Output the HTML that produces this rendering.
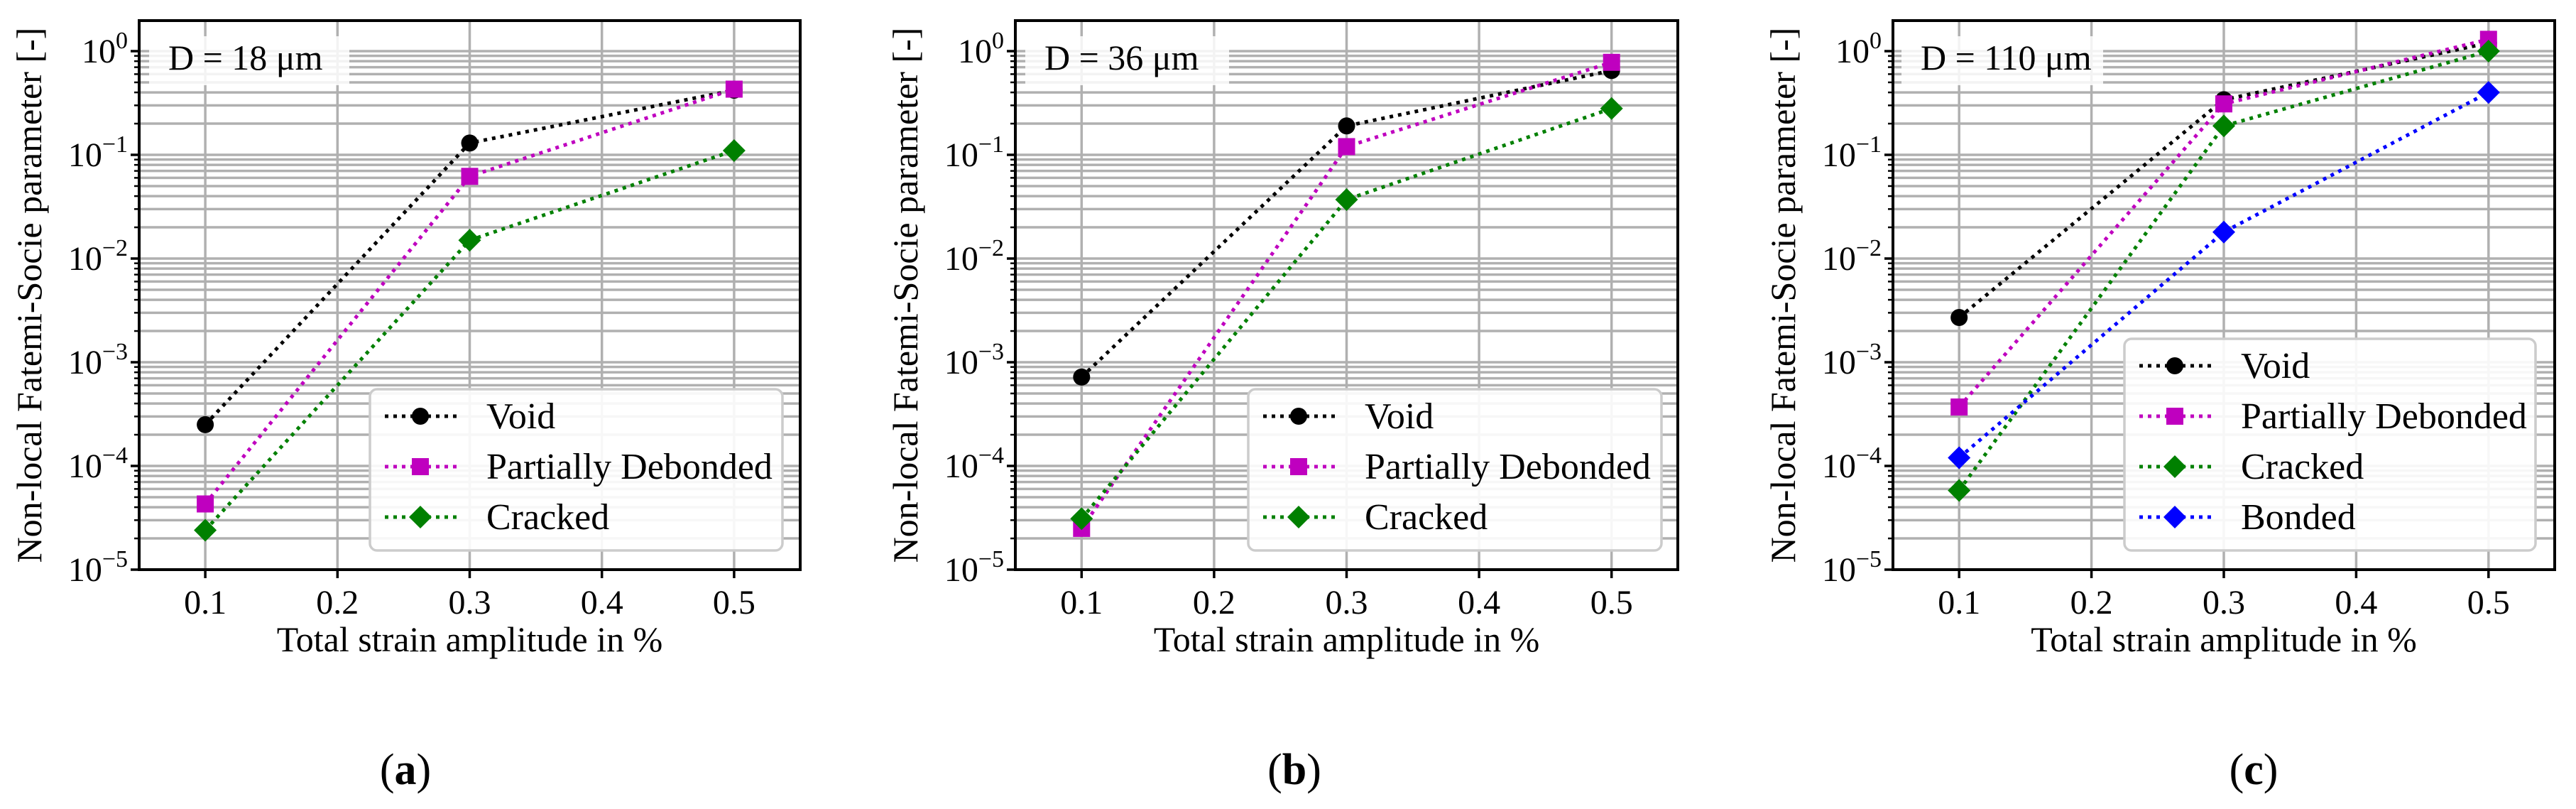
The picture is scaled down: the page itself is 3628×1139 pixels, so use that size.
<!DOCTYPE html>
<html><head><meta charset="utf-8"><style>
html,body{margin:0;padding:0;background:#fff;}
svg{display:block;font-family:"Liberation Serif","DejaVu Serif",serif;}
</style></head><body>
<svg id="fig" width="3628" height="1139" viewBox="0 0 3628 1139" xmlns="http://www.w3.org/2000/svg"></svg>
<script>
const xCats = [0.1, 0.3, 0.5];
const xTicks = [0.1, 0.2, 0.3, 0.4, 0.5];
const xTickLabels = ["0.1", "0.2", "0.3", "0.4", "0.5"];
const yExps = [0, -1, -2, -3, -4, -5];
const seriesNames = ["Void", "Partially Debonded", "Cracked", "Bonded"];
const a_void = [2.5e-4, 0.13, 0.42];
const a_pd = [4.3e-5, 0.062, 0.43];
const a_cracked = [2.4e-5, 0.015, 0.11];
const b_void = [7.2e-4, 0.19, 0.65];
const b_pd = [2.5e-5, 0.12, 0.78];
const b_cracked = [3.1e-5, 0.037, 0.28];
const c_void = [2.7e-3, 0.34, 1.2];
const c_pd = [3.7e-4, 0.31, 1.3];
const c_cracked = [5.8e-5, 0.19, 1.0];
const c_bonded = [1.2e-4, 0.018, 0.4];
const panelTitles = ["D = 18 \u03bcm", "D = 36 \u03bcm", "D = 110 \u03bcm"];
const panelLetters = ["a", "b", "c"];

const NS = "http://www.w3.org/2000/svg";
const svg = document.getElementById("fig");
function el(tag, attrs, parent) {
  const e = document.createElementNS(NS, tag);
  for (const k in attrs) e.setAttribute(k, attrs[k]);
  (parent || svg).appendChild(e);
  return e;
}
const styles = {
  "Void": {color: "#000000", marker: "circle"},
  "Partially Debonded": {color: "#bf00bf", marker: "square"},
  "Cracked": {color: "#008000", marker: "diamond"},
  "Bonded": {color: "#0000ff", marker: "diamond"}
};
function marker(g, type, x, y, color) {
  let m;
  if (type === "circle") m = el("circle", {cx: x, cy: y, r: 12, fill: color}, g);
  else if (type === "square") m = el("rect", {x: x - 12, y: y - 12, width: 24, height: 24, fill: color}, g);
  else m = el("polygon", {points: `${x},${y-16} ${x+16},${y} ${x},${y+16} ${x-16},${y}`, fill: color}, g);
  return m;
}
const panels = [
  {left: 196, right: 1127, letterX: 571, legend: [521, 548, 1102, 775], title: [210, 51, 492, 120], series: [["Void", a_void], ["Partially Debonded", a_pd], ["Cracked", a_cracked]]},
  {left: 1430, right: 2363, letterX: 1823, legend: [1758, 548, 2340, 775], title: [1444, 51, 1731, 120], series: [["Void", b_void], ["Partially Debonded", b_pd], ["Cracked", b_cracked]]},
  {left: 2666, right: 3598, letterX: 3174, legend: [2992, 477, 3571, 775], title: [2678, 51, 2962, 120], series: [["Void", c_void], ["Partially Debonded", c_pd], ["Cracked", c_cracked], ["Bonded", c_bonded]]}
];
const TOP = 29, BOT = 802, Y0 = 72;
const DEC = (BOT - Y0) / 5;
panels.forEach((p, pi) => {
  const g = el("g", {});
  
  
  const xs = v => p.left + (v - 0.05) / 0.5 * (p.right - p.left);
  const ys = v => Y0 - Math.log10(v) * DEC;
  const grid = el("g", {stroke: "#b0b0b0", "stroke-width": 3.5}, g);
  
  
  for (let e = 0; e >= -5; e--) {
    for (let k = 1; k <= 9; k++) {
      const v = k * Math.pow(10, e);
      const y = ys(v);
      if (y < TOP || y > BOT) continue;
      el("line", {x1: p.left, x2: p.right, y1: y, y2: y}, grid);
      el("line", {x1: p.left - (k === 1 ? 12 : 7), x2: p.left, y1: y, y2: y, stroke: "#000", "stroke-width": k === 1 ? 3.5 : 2.5}, g);
    }
  }
  const ttop = ys(2);
  if (ttop > TOP) el("line", {x1: p.left - 7, x2: p.left, y1: ttop, y2: ttop, stroke: "#000", "stroke-width": 2.5}, g);
  xTicks.forEach((t, i) => {
    const x = xs(t);
    el("line", {x1: x, x2: x, y1: TOP, y2: BOT}, grid);
    el("line", {x1: x, x2: x, y1: BOT, y2: BOT + 12, stroke: "#000", "stroke-width": 3.5}, g);
    const tl = el("text", {x: x, y: BOT + 62, "font-size": 48, "text-anchor": "middle"}, g);
    tl.textContent = xTickLabels[i];
    
    
  });
  yExps.forEach(e => {
    const y = ys(Math.pow(10, e));
    const t = el("text", {x: p.left - 16, y: y + 16, "font-size": 48, "text-anchor": "end"}, g);
    
    
    const base = el("tspan", {}, t); base.textContent = "10";
    const sup = el("tspan", {"font-size": 34, dy: -20}, t); sup.textContent = e === 0 ? "0" : "\u2212" + (-e);
  });
  const [tx1, ty1, tx2, ty2] = p.title;
  const tb = el("rect", {x: tx1, y: ty1, width: tx2 - tx1, height: ty2 - ty1, fill: "#fff", "fill-opacity": 0.85}, g);
  
  
  const tt = el("text", {x: tx1 + 27, y: ty1 + 47, "font-size": 50}, g);
  tt.textContent = panelTitles[pi];
  
  
  p.series.forEach(([name, vals]) => {
    const st = styles[name];
    const sg = el("g", {}, g);
    
    
    const pts = vals.map((v, i) => xs(xCats[i]) + "," + ys(v)).join(" ");
    el("polyline", {points: pts, fill: "none", stroke: st.color, "stroke-width": 5, "stroke-dasharray": "5 7"}, sg);
    vals.forEach((v, i) => {
      const m = marker(sg, st.marker, xs(xCats[i]), ys(v), st.color);
      
      
    });
  });
  const [lx1, ly1, lx2, ly2] = p.legend;
  const lg = el("g", {}, g);
  
  
  el("rect", {x: lx1, y: ly1, width: lx2 - lx1, height: ly2 - ly1, rx: 10, fill: "#fff", "fill-opacity": 0.9, stroke: "#cccccc", "stroke-width": 3.5}, lg);
  p.series.forEach(([name], i) => {
    const st = styles[name];
    const y = ly1 + 38 + i * 71;
    const eg = el("g", {}, lg);
    
    
    el("line", {x1: lx1 + 21, x2: lx1 + 123, y1: y, y2: y, stroke: st.color, "stroke-width": 5, "stroke-dasharray": "5 7"}, eg);
    marker(eg, st.marker, lx1 + 71, y, st.color);
    const t = el("text", {x: lx1 + 164, y: y + 17, "font-size": 52}, eg);
    t.textContent = name;
  });
  const sp = el("rect", {x: p.left, y: TOP, width: p.right - p.left, height: BOT - TOP, fill: "none", stroke: "#000", "stroke-width": 4}, g);
  
  
  const cx = (p.left + p.right) / 2;
  const xl = el("text", {x: cx, y: 917, "font-size": 50, "text-anchor": "middle"}, g);
  xl.textContent = "Total strain amplitude in %";
  
  
  const yx = p.left - 138;
  const yl = el("text", {x: 0, y: 0, "font-size": 50, "text-anchor": "middle", transform: `translate(${yx},${(TOP + BOT) / 2}) rotate(-90)`}, g);
  yl.textContent = "Non-local Fatemi-Socie parameter [-]";
  
  
  const pl = el("text", {x: p.letterX, y: 1104, "font-size": 62, "text-anchor": "middle"}, g);
  
  
  const t1 = el("tspan", {}, pl); t1.textContent = "(";
  const t2 = el("tspan", {"font-weight": "bold"}, pl); t2.textContent = panelLetters[pi];
  const t3 = el("tspan", {}, pl); t3.textContent = ")";
});
</script>
</body></html>
